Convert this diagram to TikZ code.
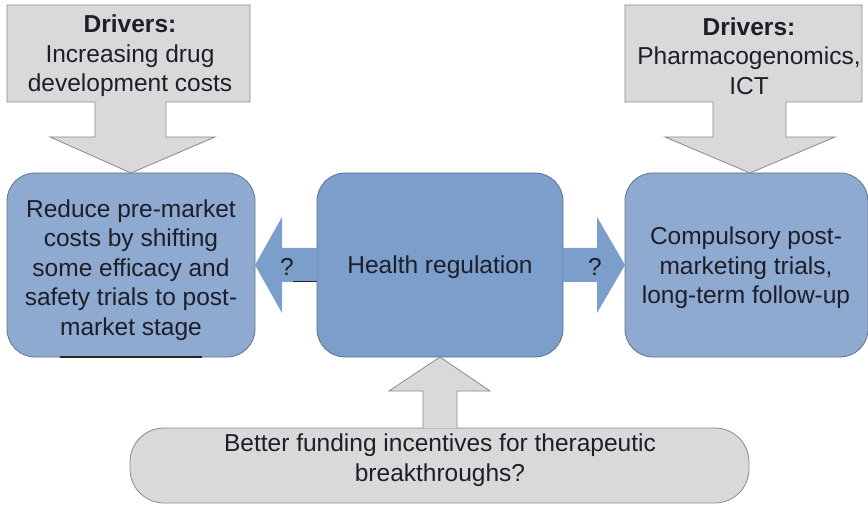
\documentclass[tikz,border=0pt]{standalone}
\usepackage{fontspec}
\setmainfont{Liberation Sans}
\definecolor{graybox}{HTML}{D9D9D9}
\definecolor{grayline}{HTML}{8A8A8A}
\definecolor{bluelight}{HTML}{8EAAD0}
\definecolor{bluedark}{HTML}{7B9ECB}
\definecolor{blueline}{HTML}{5F7391}
\definecolor{txt}{HTML}{1E1E2A}
\tikzset{
  callout/.style={fill=graybox, draw=grayline, line width=0.8pt},
  bluebox/.style={fill=bluelight, draw=blueline, line width=0.8pt, rounded corners=28pt},
  centerbox/.style={fill=bluedark, draw=blueline, line width=0.8pt, rounded corners=28pt},
  blockarrow/.style={fill=bluedark, draw=none},
  graybox/.style={fill=graybox, draw=grayline, line width=0.8pt, rounded corners=34pt},
  label/.style={text=txt, align=center, inner sep=0pt, font=\fontsize{24.5}{29.5}\selectfont},
  artifact/.style={draw=black!85, line width=1.6pt}
}
\begin{document}
\begin{tikzpicture}[x=1pt,y=-1pt]
\useasboundingbox (0,0) rectangle (868,505);
% boxes
\draw[bluebox] (7,173) rectangle (255,357);
\draw[centerbox] (317,173) rectangle (563,357);
\draw[bluebox] (625,173) rectangle (868,357);
\draw[graybox] (130,428) rectangle (749,503);
% callouts
\draw[callout] (7,5) -- (250,5) -- (250,102) -- (166,102) -- (166,137) -- (215,137) -- (131,173) -- (50,137) -- (95,137) -- (95,102) -- (7,102) -- cycle;
\draw[callout] (625,5) -- (862,5) -- (862,102) -- (786,102) -- (786,137) -- (835,137) -- (750,173) -- (665,137) -- (713,137) -- (713,102) -- (625,102) -- cycle;
% block arrows
\fill[blockarrow] (317,248) -- (282,248) -- (282,217) -- (255,265) -- (282,313) -- (282,282) -- (317,282) -- cycle;
\fill[blockarrow] (563,248) -- (597,248) -- (597,217) -- (625,265) -- (597,313) -- (597,282) -- (563,282) -- cycle;
\draw[callout] (423,428) -- (423,391) -- (389,391) -- (440,357) -- (490,391) -- (457,391) -- (457,428);
% artifacts
\coordinate (a1) at (60,357); \coordinate (a2) at (202,357);
\draw[artifact] (a1) -- (a2);
\coordinate (b1) at (293,282); \coordinate (b2) at (317,282);
\draw[artifact, line width=1pt] (b1) -- (b2);
% texts
\node[label] (tl) at (130,56) {\textbf{Drivers:}\\Increasing drug\\development costs};
\node[label] (tr) at (749,56) {\textbf{Drivers:}\\Pharmacogenomics,\\ICT};
\node[label] (lb) at (131,270) {Reduce pre-market\\costs by shifting\\some efficacy and\\safety trials to post-\\market stage};
\node[label] (cb) at (440,267) {Health regulation};
\node[label] (rb) at (746,268) {Compulsory post-\\marketing trials,\\long-term follow-up};
\node[label] (bb) at (440,460) {Better funding incentives for therapeutic\\breakthroughs?};
\node[label] (q1) at (287,267) {?};
\node[label] (q2) at (595,267) {?};
\end{tikzpicture}
\end{document}
